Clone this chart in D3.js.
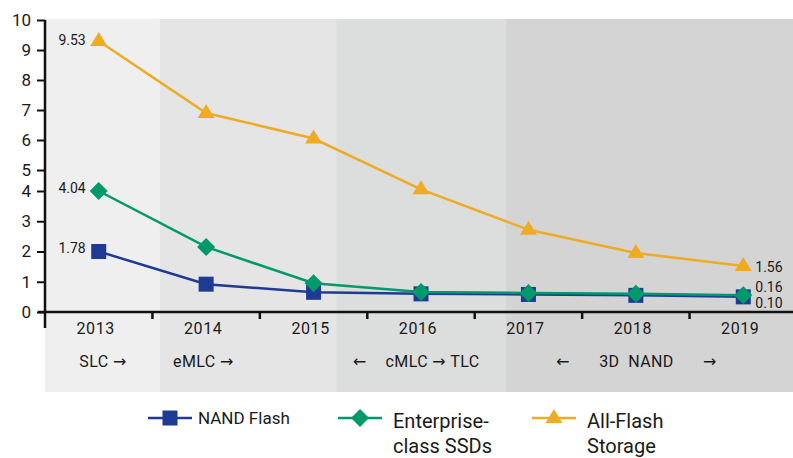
<!DOCTYPE html>
<html>
<head>
<meta charset="utf-8">
<script src="https://cdn.jsdelivr.net/npm/d3@7"></script>
<style>
  body { margin: 0; background: white; }
  text { font-family: Roboto, "Noto Sans", sans-serif; fill: #1a1a1a; }
</style>
</head>
<body>
<div id="chart"></div>
<script>
// data
var years = [2013, 2014, 2015, 2016, 2017, 2018, 2019];
var nandFlash = [2.0, 0.92, 0.65, 0.6, 0.58, 0.55, 0.5];
var enterpriseSSD = [4.0, 2.15, 0.95, 0.66, 0.63, 0.6, 0.55];
var allFlash = [9.3, 6.9, 6.05, 4.08, 2.72, 1.95, 1.52];
var startLabels = ["1.78", "4.04", "9.53"];
var endLabels = ["0.10", "0.16", "1.56"];
var yTicks = [0, 1, 2, 3, 4, 5, 6, 7, 8, 9, 10];
var eras = [
  {from: 2012.5, to: 2013.57},
  {from: 2013.57, to: 2015.21},
  {from: 2015.21, to: 2016.79},
  {from: 2016.79, to: 2019.5}
];
var eraColors = ["#efefef", "#e5e5e5", "#dcdddd", "#d4d4d4"];
var eraText = [
  {t: "SLC \u2192", at: 2013.04},
  {t: "eMLC \u2192", at: 2013.975},
  {t: "\u2190", at: 2015.43},
  {t: "cMLC \u2192 TLC", at: 2016.107},
  {t: "\u2190", at: 2017.32},
  {t: "3D\u00a0\u00a0NAND", at: 2018.006},
  {t: "\u2192", at: 2018.69}
];

var series = [
  {name: "NAND Flash", values: nandFlash, color: "#1f3a93", shape: "square"},
  {name: "Enterprise-class SSDs", values: enterpriseSSD, color: "#00996c", shape: "diamond"},
  {name: "All-Flash Storage", values: allFlash, color: "#efab23", shape: "triangle"}
];

var width = 793, height = 458;
var svg = d3.select("#chart").append("svg")
    .attr("width", width)
    .attr("height", height);

var x = d3.scaleLinear().domain([2012.5, 2019.5]).range([45, 797]);
// the y axis in the picture squeezes the 4-5 step
var y = d3.scaleLinear().domain([0, 4, 5, 10]).range([312, 191, 170, 20]);

// background era bands
svg.append("g").selectAll("rect")
    .data(eras)
    .join("rect")
    .attr("x", function(d) { return x(d.from); })
    .attr("width", function(d) { return x(d.to) - x(d.from); })
    .attr("y", 19)
    .attr("height", 373)
    .style("fill", function(d, i) { return eraColors[i]; });

// y axis
var yAxis = svg.append("g")
    .attr("transform", "translate(45,0)")
    .call(d3.axisLeft(y).tickValues(yTicks).tickSize(8).tickPadding(6).tickFormat(d3.format("d")));
yAxis.select(".domain").remove();
yAxis.selectAll("line").style("stroke", "#111").style("stroke-width", 2);
yAxis.selectAll("text").style("font-size", "17px").style("fill", "#1a1a1a");
svg.append("line")
    .attr("x1", 45).attr("x2", 45).attr("y1", 20).attr("y2", 328)
    .style("stroke", "#111").style("stroke-width", 2.5);

// x axis
svg.append("line")
    .attr("x1", 38).attr("x2", width).attr("y1", y(0)).attr("y2", y(0))
    .style("stroke", "#111").style("stroke-width", 2.5);
svg.append("g").selectAll("line")
    .data(years.slice(1))
    .join("line")
    .attr("x1", function(d) { return x(d - 0.5); })
    .attr("x2", function(d) { return x(d - 0.5); })
    .attr("y1", y(0)).attr("y2", y(0) + 7)
    .style("stroke", "#111").style("stroke-width", 2.5);
svg.append("g").selectAll("text")
    .data(years)
    .join("text")
    .attr("x", function(d) { return x(d) - 3; })
    .attr("y", 334)
    .attr("text-anchor", "middle")
    .style("font-size", "16px")
    .style("letter-spacing", "0.6px")
    .text(function(d) { return d; });

// era labels, arrows drawn in a font that has them
svg.append("g").selectAll("text")
    .data(eraText)
    .join("text")
    .attr("x", function(d) { return x(d.at); })
    .attr("y", 367)
    .attr("text-anchor", "middle")
    .style("font-size", "16px")
    .style("letter-spacing", "0.4px")
    .each(function(d) {
      var t = d3.select(this);
      d.t.split(/([\u2190\u2192])/).forEach(function(part) {
        if (part == "") return;
        var sp = t.append("tspan").text(part);
        if (part == "\u2190" || part == "\u2192") sp.style("font-family", "'DejaVu Sans'").style("font-size", "16px");
      });
    });

// markers
function drawMarker(g, shape, cx, cy, color) {
  if (shape == "square") {
    g.append("rect").attr("x", cx - 7.5).attr("y", cy - 7.5)
      .attr("width", 15).attr("height", 15).style("fill", color);
  } else if (shape == "diamond") {
    g.append("path")
      .attr("d", "M" + cx + "," + (cy - 9) + "L" + (cx + 9) + "," + cy + "L" + cx + "," + (cy + 9) + "L" + (cx - 9) + "," + cy + "Z")
      .style("fill", color);
  } else {
    g.append("path")
      .attr("d", "M" + cx + "," + (cy - 9) + "L" + (cx + 8.5) + "," + (cy + 5) + "L" + (cx - 8.5) + "," + (cy + 5) + "Z")
      .style("fill", color);
  }
}

var line = d3.line()
    .x(function(d, i) { return x(years[i]); })
    .y(function(d) { return y(d); });

series.forEach(function(s) {
  var g = svg.append("g");
  g.append("path")
    .datum(s.values)
    .attr("d", line)
    .style("fill", "none")
    .style("stroke", s.color)
    .style("stroke-width", 2.5);
  s.values.forEach(function(v, i) {
    drawMarker(g, s.shape, x(years[i]), y(v), s.color);
  });
});

// value labels
var startOffsets = [-3, -3, -1];
var endOffsets = [6, -8, 1];
series.forEach(function(s, i) {
  svg.append("text")
    .attr("x", x(years[0]) - 13)
    .attr("y", y(s.values[0]) + startOffsets[i])
    .attr("dy", "0.35em")
    .attr("text-anchor", "end")
    .style("font-size", "14px")
    .text(startLabels[i]);
  svg.append("text")
    .attr("x", x(years[years.length - 1]) + 12)
    .attr("y", y(s.values[s.values.length - 1]) + endOffsets[i])
    .attr("dy", "0.35em")
    .style("font-size", "14px")
    .text(endLabels[i]);
});

// legend
var legend = [
  {lx: 148, tx: 198, lines: ["NAND Flash"], size: "17px"},
  {lx: 338, tx: 393, lines: ["Enterprise-", "class SSDs"], size: "20px"},
  {lx: 532, tx: 587, lines: ["All-Flash", "Storage"], size: "20px"}
];
legend.forEach(function(l, i) {
  var g = svg.append("g");
  g.append("line")
    .attr("x1", l.lx).attr("x2", l.lx + 44)
    .attr("y1", 418).attr("y2", 418)
    .style("stroke", series[i].color).style("stroke-width", 2.5);
  drawMarker(g, series[i].shape, l.lx + 22, 418, series[i].color);
  var t = g.append("text")
    .attr("x", l.tx)
    .style("font-size", l.size);
  if (l.lines.length == 1) {
    t.attr("y", 424).text(l.lines[0]);
  } else {
    t.attr("y", 428);
    l.lines.forEach(function(s, j) {
      t.append("tspan").attr("x", l.tx).attr("dy", j == 0 ? 0 : 25).text(s);
    });
  }
});
</script>
</body>
</html>
